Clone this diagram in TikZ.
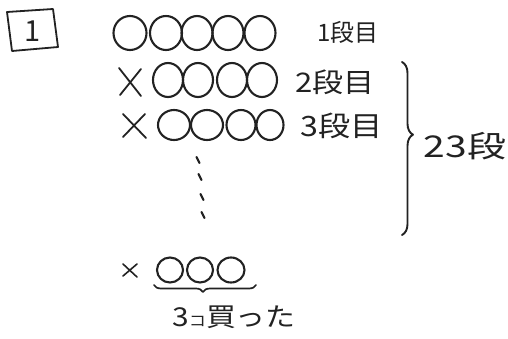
\documentclass[tikz,border=0pt]{standalone}
\usepackage{fontspec}
\setmainfont{Noto Sans CJK JP}
\usetikzlibrary{decorations.pathreplacing}
\definecolor{ink}{HTML}{222222}
\begin{document}
\begin{tikzpicture}[x=1pt,y=-1pt,
  pen/.style={draw=ink,line width=2.1pt,line cap=round,line join=round},
  lbl/.style={text=ink,inner sep=0pt,anchor=center},
  cross/.style={pen,line width=1.8pt}]
\useasboundingbox (0,0) rectangle (508,338);
% numbered box
\draw[pen,line width=1.8pt] (7,12) -- (53,9) -- (58,47) -- (12,51) -- cycle;
\node[lbl,font=\fontsize{29}{29}\selectfont] (num) at (33,31) {1};
% row 1
\foreach \cx/\rx in {130/16.5,166/16,197/15.5,228/15.5,260/15.5}
  \draw[pen] (\cx,33) ellipse [x radius=\rx,y radius=17];
\node[lbl,font=\fontsize{24}{24}\selectfont] (r1) at (348,32) {1段目};
% row 2
\draw[cross] (119,68) -- (141,96) (141,69) -- (120,95);
\foreach \cx/\rx in {168/15,198/15,232/15,262/15}
  \draw[pen] (\cx,80) ellipse [x radius=\rx,y radius=17];
\node[lbl,font=\fontsize{27}{27}\selectfont] (r2) at (335,82) {\scalebox{1.15}[1]{2段目}};
% row 3
\draw[cross] (123,114) -- (146,138) (145,114) -- (123,137);
\foreach \cx/\rx in {174/16,207/16,241/14.5,270/13.5}
  \draw[pen] (\cx,125) ellipse [x radius=\rx,y radius=15];
\node[lbl,font=\fontsize{28}{28}\selectfont] (r3) at (342,126) {\scalebox{1.15}[1]{3段目}};
% dots
\foreach \dx/\dy in {198/160,200/177,202/197,203/215}
  \draw[pen,line width=2.2pt] (\dx-1.5,\dy-3) -- (\dx+1.5,\dy+3);
% right brace
\draw[pen,line width=1.9pt,decorate,decoration={brace,amplitude=11pt,aspect=0.42}]
  (402,62) -- (402,235);
\node[lbl,font=\fontsize{30}{30}\selectfont] (total) at (465,146) {\scalebox{1.3}[1]{23段}};
% bottom row
\draw[cross,line width=1.6pt] (123,264) -- (137,277) (137,264) -- (123,276);
\foreach \cx/\rx in {170/13,200/13,231/13.5}
  \draw[pen] (\cx,270) ellipse [x radius=\rx,y radius=12.5];
\draw[pen,line width=1.7pt,decorate,decoration={brace,amplitude=7pt,mirror,aspect=0.48}]
  (154,285) -- (256,285);
\node[lbl,font=\fontsize{26}{26}\selectfont] (bought) at (234,317)
  {\scalebox{1.15}[1]{3{\fontsize{15}{15}\selectfont コ}買った}};
\end{tikzpicture}
\end{document}
